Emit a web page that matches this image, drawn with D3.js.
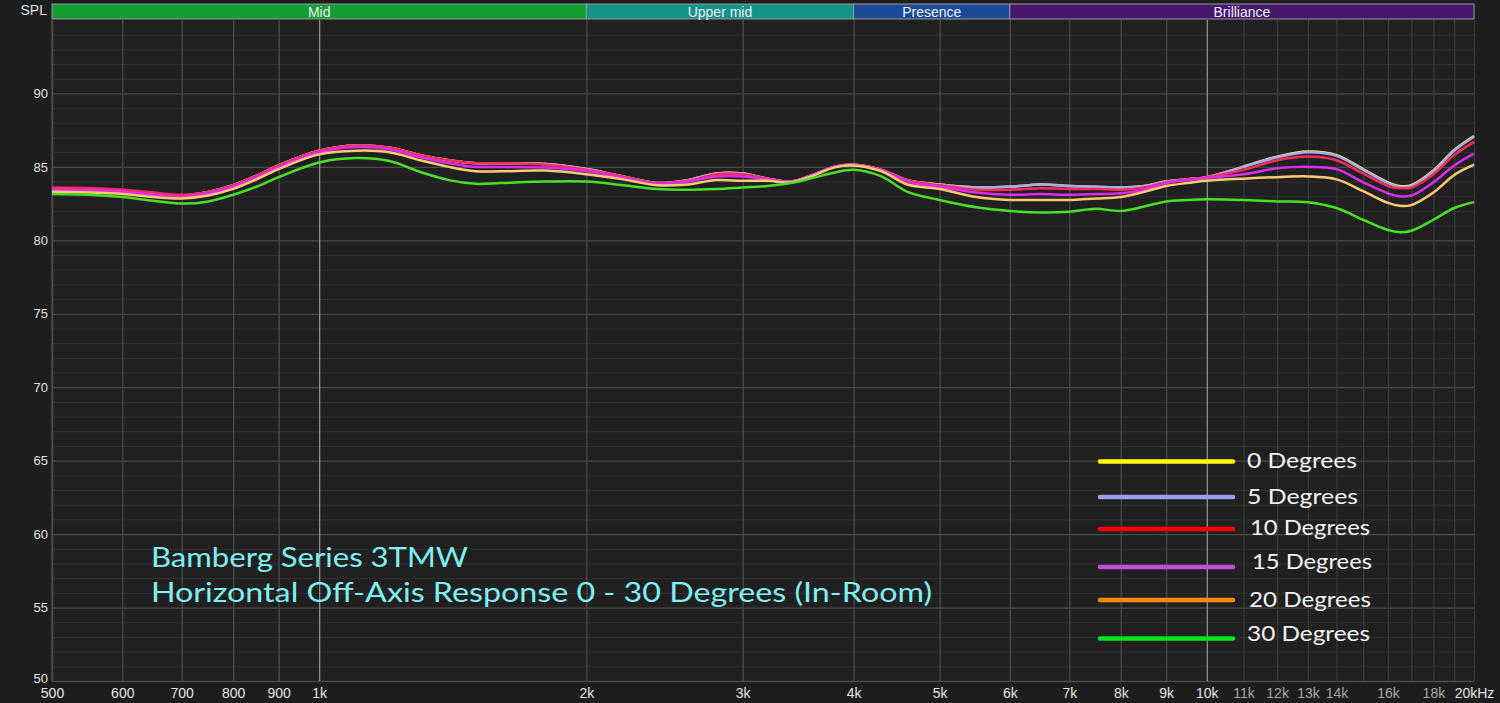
<!DOCTYPE html>
<html><head><meta charset="utf-8">
<script src="https://cdn.jsdelivr.net/npm/d3@7"></script>
<style>
html,body{margin:0;padding:0;background:#1d1d1d;overflow:hidden}
svg{display:block}
</style></head>
<body><svg id="chart" width="1500" height="703"></svg>
<script>
// ---- data ----
const freqs = [500,550,600,650,700,750,800,850,900,1000,1100,1200,1300,1400,1500,1600,1800,2000,2200,2400,2600,2800,3000,3200,3400,3600,3800,4000,4300,4600,5000,5500,6000,6500,7000,7500,8000,8500,9000,9500,10000,11000,12000,13000,14000,15000,16000,16500,17000,18000,19000,20000];
const deg0  = [83.55,83.5,83.4,83.2,83.05,83.3,83.75,84.4,85.1,86.1,86.45,86.3,85.8,85.45,85.25,85.25,85.2,84.85,84.35,83.9,84.1,84.55,84.55,84.2,84.0,84.45,85.0,85.15,84.8,84.1,83.8,83.6,83.65,83.8,83.7,83.65,83.6,83.7,84.0,84.15,84.3,85.02,85.7,86.05,85.8,84.85,83.95,83.7,83.75,84.75,86.15,87.1];
const deg5  = [83.55,83.5,83.4,83.2,83.05,83.3,83.75,84.4,85.1,86.1,86.45,86.3,85.8,85.45,85.25,85.25,85.2,84.85,84.35,83.9,84.1,84.55,84.55,84.2,84.0,84.45,85.0,85.15,84.8,84.1,83.8,83.6,83.65,83.8,83.7,83.65,83.6,83.7,84.0,84.15,84.3,85.0,85.65,86.0,85.75,84.8,83.9,83.65,83.7,84.7,86.1,87.05];
const deg10 = [83.6,83.55,83.45,83.25,83.1,83.3,83.75,84.4,85.1,86.1,86.45,86.3,85.8,85.45,85.25,85.25,85.15,84.8,84.35,83.9,84.05,84.5,84.5,84.2,84.0,84.45,85.0,85.15,84.8,84.1,83.75,83.45,83.45,83.55,83.5,83.5,83.45,83.6,83.95,84.15,84.3,84.8,85.45,85.7,85.45,84.55,83.7,83.55,83.6,84.5,85.8,86.7];
const deg15 = [83.45,83.4,83.3,83.1,82.95,83.2,83.65,84.3,85.0,86.0,86.35,86.2,85.65,85.25,85.0,85.0,84.95,84.7,84.25,83.85,84.0,84.35,84.35,84.15,84.0,84.45,85.0,85.1,84.75,84.0,83.65,83.25,83.1,83.15,83.1,83.15,83.2,83.45,83.9,84.1,84.25,84.5,84.9,85.0,84.85,83.95,83.2,83.0,83.05,83.95,85.1,85.9];
const deg20 = [83.3,83.25,83.15,82.95,82.85,83.05,83.5,84.15,84.85,85.85,86.1,86.0,85.45,85.0,84.7,84.7,84.75,84.5,84.15,83.75,83.8,84.1,84.05,84.05,83.95,84.4,84.95,85.1,84.7,83.8,83.5,82.95,82.75,82.75,82.75,82.85,82.95,83.3,83.7,83.9,84.05,84.2,84.3,84.35,84.15,83.35,82.55,82.35,82.4,83.25,84.45,85.15];
const deg30 = [83.15,83.1,82.95,82.7,82.5,82.65,83.1,83.65,84.3,85.3,85.6,85.4,84.65,84.1,83.85,83.9,84.0,84.0,83.75,83.5,83.45,83.5,83.6,83.7,83.9,84.25,84.6,84.8,84.35,83.3,82.75,82.25,82.0,81.9,81.95,82.15,82.0,82.3,82.65,82.75,82.8,82.75,82.65,82.6,82.2,81.4,80.7,80.55,80.65,81.4,82.2,82.6];

const seriesNames = ["0 Degrees","5 Degrees","10 Degrees","15 Degrees","20 Degrees","30 Degrees"];
const seriesValues = [deg0,deg5,deg10,deg15,deg20,deg30];
const curveColors = ["#ffee44","#a8a8f6","#ff2c58","#dc2cf0","#ffca72","#48e024"];
const legendColors = ["#ffff00","#9c9cf0","#ff0000","#c050d8","#ff8a00","#00e61a"];

const yTicks = [50,55,60,65,70,75,80,85,90];
const xTicks = [500,600,700,800,900,1000,2000,3000,4000,5000,6000,7000,8000,9000,10000,11000,12000,13000,14000,16000,18000,20000];
const xTickLabels = ["500","600","700","800","900","1k","2k","3k","4k","5k","6k","7k","8k","9k","10k","11k","12k","13k","14k","16k","18k","20kHz"];
const xMinorOnly = [15000,17000,19000];

const bandNames = ["Mid","Upper mid","Presence","Brilliance"];
const bandEdges = [500,2000,4000,6000,20000];
const bandColors = ["#129e33","#139488","#1b4a98","#461670"];

const titleLines = ["Bamberg Series 3TMW","Horizontal Off-Axis Response 0 - 30 Degrees (In-Room)"];

// ---- layout ----
const W = 1500, H = 703;
const L = 52, R = 1474, T = 20, B = 681;
const FONT_AX = "'Liberation Sans Narrow','Liberation Sans',Arial,sans-serif";
const svg = d3.select("#chart");
svg.append("rect").attr("width",W).attr("height",H).attr("fill","#1d1d1d");

const x = d3.scaleLog().domain([500,20000]).range([L,R]);
const y = d3.scaleLinear().domain([50,95]).range([B,T]);

svg.append("rect").attr("x",L).attr("y",T).attr("width",R-L).attr("height",B-T).attr("fill","#202020");

// horizontal minor grid (1 dB)
const hMinor = d3.range(51,96).filter(v=>v%5!==0);
svg.append("g").call(d3.axisLeft(y).tickValues(hMinor).tickSize(-(R-L)).tickFormat(""))
  .attr("transform",`translate(${L},0)`)
  .call(g=>{g.select(".domain").remove();g.selectAll("line").attr("stroke","#303030").attr("stroke-width",1);});
// horizontal major grid
svg.append("g").call(d3.axisLeft(y).tickValues(yTicks).tickSize(-(R-L)).tickFormat(""))
  .attr("transform",`translate(${L},0)`)
  .call(g=>{g.select(".domain").remove();g.selectAll("line").attr("stroke","#4a4a4a").attr("stroke-width",1.3);});

// vertical grid
const vAll = xTicks.concat(xMinorOnly);
svg.append("g").attr("transform",`translate(0,${B})`)
  .call(d3.axisBottom(x).tickValues(vAll).tickSize(-(B-T)).tickFormat(""))
  .call(g=>{g.select(".domain").remove();
    g.selectAll("line").attr("stroke",d=>(d===1000||d===10000)?"#9a9a9a":(d>10000?"#3c3c3c":"#4e4e4e")).attr("stroke-width",1.2);});
svg.append("line").attr("x1",L).attr("x2",L).attr("y1",T).attr("y2",B).attr("stroke","#555");

// y labels
svg.append("g").attr("transform",`translate(${L-4},0)`)
  .call(d3.axisLeft(y).tickValues(yTicks).tickSize(0).tickPadding(0).tickFormat(d3.format("d")))
  .call(g=>{g.select(".domain").remove();
    g.selectAll("text").attr("fill","#e0e0e0").attr("font-size",13).attr("font-family",FONT_AX)
      .attr("dy",d=>d===50?"0.15em":"0.32em");});
svg.append("text").attr("x",47).attr("y",15).attr("text-anchor","end").attr("fill","#e0e0e0")
  .attr("font-size",14).attr("font-family",FONT_AX).text("SPL");

// x labels
svg.append("g").attr("transform",`translate(0,${B})`)
  .call(d3.axisBottom(x).tickValues(xTicks).tickSize(0).tickPadding(7).tickFormat((d,i)=>xTickLabels[i]))
  .call(g=>{g.select(".domain").remove();
    g.selectAll("text").attr("fill",d=>(d>10000&&d<20000)?"#a8a8a8":"#e4e4e4").attr("font-size",14)
      .attr("font-family",FONT_AX);});

// frequency bands
const bands = bandNames.map((n,i)=>({name:n,f0:bandEdges[i],f1:bandEdges[i+1],color:bandColors[i]}));
const bg = svg.append("g");
bg.selectAll("rect").data(bands).join("rect")
  .attr("x",d=>x(d.f0)).attr("y",4).attr("width",d=>x(d.f1)-x(d.f0)).attr("height",15)
  .attr("fill",d=>d.color).attr("stroke","#9a9a9a").attr("stroke-width",1);
bg.selectAll("text").data(bands).join("text")
  .attr("x",d=>(x(d.f0)+x(d.f1))/2).attr("y",16.5).attr("text-anchor","middle")
  .attr("fill","#f0f0f0").attr("font-size",14).attr("font-family",FONT_AX).text(d=>d.name);

// curves
const line = d3.line().x(d=>x(d[0])).y(d=>y(d[1])).curve(d3.curveCatmullRom.alpha(0.5));
const cg = svg.append("g");
seriesValues.forEach((vals,i)=>{
  cg.append("path").datum(freqs.map((f,j)=>[f,vals[j]]))
    .attr("d",line).attr("fill","none").attr("stroke",curveColors[i]).attr("stroke-width",2.5)
    .attr("stroke-linejoin","round");
});

// legend
const legY = [461.5,497,529,567,600,638.5];
const legTextY = [468,503.5,535,569,606.5,640.5];
const legTextX = [1247,1247,1250,1252,1249,1247];
const legTextW = [110,111,120,120,122,123];
const lg = svg.append("g");
seriesNames.forEach((n,i)=>{
  lg.append("line").attr("x1",1100).attr("x2",1233).attr("y1",legY[i]).attr("y2",legY[i])
    .attr("stroke",legendColors[i]).attr("stroke-width",4.5).attr("stroke-linecap","round");
  lg.append("text").attr("x",legTextX[i]).attr("y",legTextY[i]).attr("fill","#f4f4f4")
    .attr("font-size",21).attr("font-family","'Lato','Noto Sans',sans-serif")
    .attr("textLength",legTextW[i]).attr("lengthAdjust","spacingAndGlyphs").text(n);
});

// title
const tg = svg.append("g");
const titleY = [566.5,601.5], titleW = [317,781];
titleLines.forEach((t,i)=>{
  tg.append("text").attr("x",151).attr("y",titleY[i]).attr("fill","#7ff0f2")
    .attr("font-size",27).attr("font-family","'Lato','Noto Sans',sans-serif")
    .attr("textLength",titleW[i]).attr("lengthAdjust","spacingAndGlyphs").text(t);
});
</script></body></html>
